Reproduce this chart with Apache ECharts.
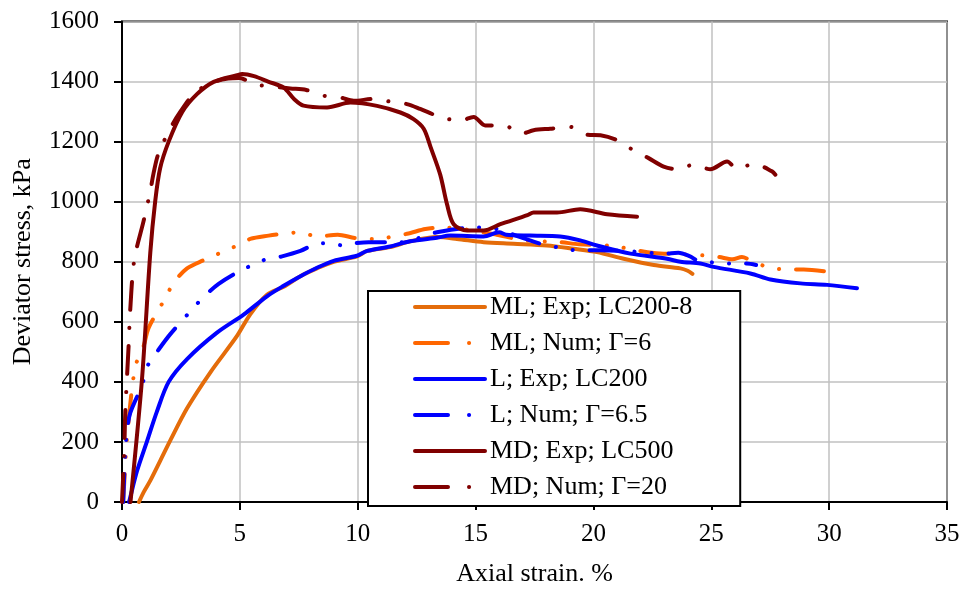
<!DOCTYPE html>
<html>
<head>
<meta charset="utf-8">
<script src="https://cdn.jsdelivr.net/npm/echarts@6/dist/echarts.min.js"></script>
<style>
html,body{margin:0;padding:0;background:#fff;}
#chart{width:964px;height:592px;}
</style>
</head>
<body>
<div id="chart"></div>
<script>
const xTicks = [0, 5, 10, 15, 20, 25, 30, 35];
const yTicks = [0, 200, 400, 600, 800, 1000, 1200, 1400, 1600];
const seriesNames = ["ML; Exp; LC200-8", "ML; Num; \u0393=6", "L; Exp; LC200", "L; Num; \u0393=6.5", "MD; Exp; LC500", "MD; Num; \u0393=20"];

const mlExp = [[0.72,0],[0.92,33],[1.2,71],[1.62,137],[2.05,205],[2.76,312],[3.75,432],[4.88,553],[5.44,625],[6.15,690],[6.86,717],[7.57,752],[8.27,778],[8.98,800],[9.97,818],[10.4,836],[11.38,849],[12.23,868],[13.36,882],[14.21,876],[15.34,865],[16.61,860],[18.03,854],[19.16,843],[20.15,832],[21.28,810],[22.56,789],[23.69,778],[24.0,770],[24.2,760]];
const mlNum = [[0.05,0],[0.2,200],[0.36,333],[0.48,411],[0.61,463],[0.92,520],[1.13,580],[1.84,679],[2.19,730],[2.76,778],[3.46,805],[4.74,849],[5.44,876],[6.22,887],[7.0,895],[7.57,898],[8.27,884],[9.15,890],[9.9,879],[10.67,876],[12.09,893],[12.87,909],[13.64,914],[14.9,904],[15.9,890],[16.8,875],[17.6,868],[18.5,866],[19.4,858],[20.6,854],[21.1,849],[21.85,838],[22.3,832],[23.0,827],[24.5,822],[25.3,816],[25.9,808],[26.3,816],[26.66,805],[27.36,783],[28.18,774],[28.92,774],[30.34,763]];
const lExp = [[0.3,0],[0.35,16],[0.64,104],[1.06,202],[1.48,301],[1.98,400],[2.76,476],[4.03,564],[5.16,624],[6.15,685],[6.86,720],[7.57,752],[8.27,780],[8.98,803],[9.97,820],[10.4,836],[11.38,851],[12.23,868],[13.36,880],[13.93,887],[15.34,884],[16.0,898],[16.3,890],[17.32,887],[18.59,884],[19.44,871],[20.15,854],[21.57,827],[23.12,810],[23.69,800],[24.54,794],[25.1,783],[26.66,761],[27.51,741],[28.78,728],[29.91,723],[31.18,712]];
const lNum = [[0.05,0],[0.1,100],[0.14,170],[0.21,235],[0.35,297],[0.85,389],[1.09,454],[1.55,507],[2.05,559],[2.97,641],[3.49,685],[4.1,726],[4.81,761],[6.0,805],[6.79,818],[7.57,836],[8.27,860],[8.9,862],[9.3,855],[9.69,860],[10.46,865],[11.24,865],[11.81,865],[13.36,898],[14.92,914],[15.9,909],[16.9,882],[17.75,860],[18.57,847],[19.3,838],[20.3,838],[21.5,835],[23.0,827],[23.6,830],[24.1,818],[24.4,805],[25.8,794],[26.5,794],[26.9,789]];
const mdExp = [[0.36,0],[0.85,411],[1.2,830],[1.41,1002],[1.62,1112],[1.98,1200],[2.55,1298],[3.18,1358],[3.89,1399],[4.88,1421],[5.1,1425],[5.6,1418],[6.2,1400],[6.86,1380],[7.3,1342],[7.7,1320],[8.7,1314],[9.69,1330],[10.82,1319],[11.81,1297],[12.37,1275],[12.8,1243],[13.1,1180],[13.5,1090],[13.79,991],[14.07,925],[14.64,904],[15.34,904],[16.05,925],[17.2,955],[17.46,964],[18.46,964],[19.44,975],[20.58,958],[21.85,950]];
const mdNum = [[0,0],[0.07,120],[0.1,180],[0.14,300],[0.28,519],[0.35,641],[0.52,806],[0.92,937],[1.2,1035],[1.34,1095],[1.55,1161],[2.12,1254],[2.47,1299],[3.04,1358],[3.75,1395],[4.5,1410],[5.0,1412],[5.58,1391],[6.43,1383],[7.14,1377],[7.82,1372],[8.55,1353],[9.26,1347],[9.83,1336],[10.67,1342],[11.52,1331],[12.09,1325],[12.65,1309],[13.5,1282],[14.35,1270],[14.92,1282],[15.41,1254],[16.19,1254],[16.97,1227],[17.46,1238],[18.17,1243],[19.02,1249],[19.73,1223],[20.3,1221],[21.0,1205],[21.68,1172],[22.34,1145],[22.98,1117],[23.55,1108],[24.25,1123],[24.96,1108],[25.67,1134],[26.09,1109],[26.8,1126],[27.58,1101],[27.72,1090]];

const FONT = 'Liberation Serif';
const dashDotDot = [28, 17, 0.1, 17, 0.1, 17];
const dashDot = [28, 18, 0.1, 18];
const legendDash = [33, 21, 0.1, 40];

function mk(name, data, color, type) {
  return {
    name: name, type: 'line', data: data, symbol: 'none', showSymbol: false,
    smooth: 0.3,
    lineStyle: { color: color, width: 4, type: type, cap: 'round', join: 'round' },
    itemStyle: { color: color },
    emphasis: { disabled: true }, animation: false
  };
}

const legendData = seriesNames.map(function (n, i) {
  return (i % 2 === 1) ? { name: n, lineStyle: { type: legendDash } } : { name: n };
});

const chart = echarts.init(document.getElementById('chart'), null, { renderer: 'canvas' });
chart.setOption({
  backgroundColor: '#ffffff',
  animation: false,
  grid: { left: 122, right: 17, top: 21.5, bottom: 84, show: true, borderColor: '#000', borderWidth: 2, backgroundColor: 'transparent' },
  xAxis: {
    type: 'value', min: xTicks[0], max: xTicks[xTicks.length - 1], interval: 5,
    name: 'Axial strain. %', nameLocation: 'middle', nameGap: 59,
    nameTextStyle: { fontFamily: FONT, fontSize: 26, color: '#000' },
    axisLine: { show: true, lineStyle: { color: '#000', width: 2 } },
    axisTick: { show: true, inside: false, length: 8, lineStyle: { color: '#000', width: 2 } },
    axisLabel: { fontFamily: FONT, fontSize: 25, color: '#000', margin: 20, formatter: function (v) { return String(v); } },
    splitLine: { show: true, lineStyle: { color: '#C0C0C0', width: 1.5 } }
  },
  yAxis: {
    type: 'value', min: yTicks[0], max: yTicks[yTicks.length - 1], interval: 200,
    name: 'Deviator stress, kPa', nameLocation: 'middle', nameGap: 86,
    nameTextStyle: { fontFamily: FONT, fontSize: 26, color: '#000' },
    axisLine: { show: true, lineStyle: { color: '#000', width: 2 } },
    axisTick: { show: true, inside: false, length: 8, lineStyle: { color: '#000', width: 2 } },
    axisLabel: { fontFamily: FONT, fontSize: 25, color: '#000', margin: 23, formatter: function (v) { return String(v); } },
    splitLine: { show: true, lineStyle: { color: '#C0C0C0', width: 1.5 } }
  },
  legend: {
    orient: 'vertical', left: 368, top: 291,
    data: legendData,
    itemWidth: 70, itemHeight: 20, itemGap: 10,
    padding: [3, 48, 6, 45],
    borderColor: '#000', borderWidth: 2, backgroundColor: '#fff',
    textStyle: { fontFamily: FONT, fontSize: 26, color: '#000', lineHeight: 26 },
    itemStyle: { opacity: 0, borderWidth: 0 },
    lineStyle: { width: 4, cap: 'round' },
    selectedMode: false
  },
  series: [
    mk(seriesNames[0], mlExp, '#E46C0A', 'solid'),
    mk(seriesNames[1], mlNum, '#FF6600', dashDotDot),
    mk(seriesNames[2], lExp, '#0000FF', 'solid'),
    mk(seriesNames[3], lNum, '#0000FF', dashDotDot),
    mk(seriesNames[4], mdExp, '#800000', 'solid'),
    mk(seriesNames[5], mdNum, '#800000', dashDot)
  ]
});
</script>
</body>
</html>
